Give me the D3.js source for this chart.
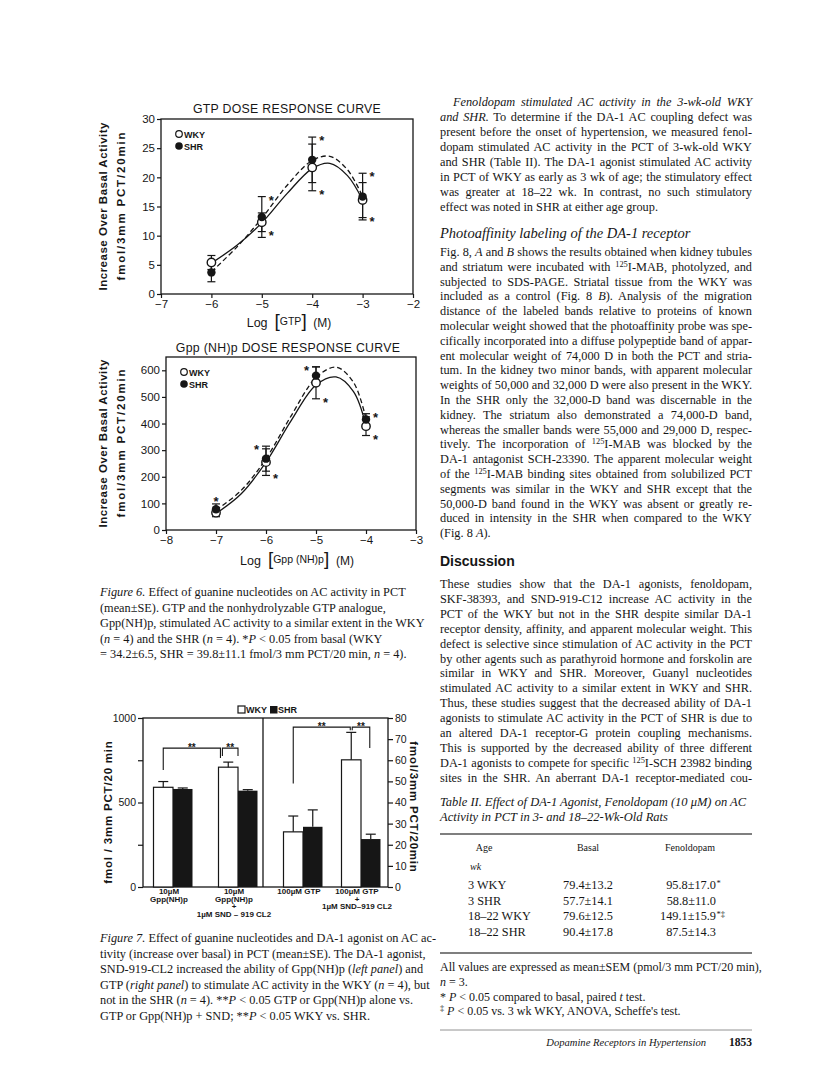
<!DOCTYPE html>
<html>
<head>
<meta charset="utf-8">
<script src="https://cdn.jsdelivr.net/npm/d3@7"></script>
<style>
body { margin: 0; background: #fff; }
.serif { font-family: "Liberation Serif", "Times New Roman", serif; }
.sans { font-family: "Liberation Sans", Arial, sans-serif; }
</style>
</head>
<body>
<svg id="page"></svg>
<script>
// ---- Figure 6, GTP panel ----
var gtpDoses = [-6, -5, -4, -3];
var gtpWky = [5.4, 12.3, 21.7, 16.1];
var gtpWkyErr = [1.2, 1.6, 4.0, 3.0];
var gtpShr = [3.7, 13.2, 23.0, 16.7];
var gtpShrErr = [1.6, 3.5, 3.9, 4.0];
// fitted curves
var gtpFitX = [-6, -5.5, -5, -4.5, -4, -3.65, -3.3, -3];
var gtpFitWky = [5.3, 8.3, 12.2, 17.2, 21.5, 22.4, 20.3, 16.1];
var gtpFitShr = [3.8, 8.0, 13.0, 18.6, 22.9, 23.6, 21.3, 16.7];
var gtpXTicks = [-7, -6, -5, -4, -3, -2];
var gtpYTicks = [0, 5, 10, 15, 20, 25, 30];
var gtpStarUp = [null, "r", "r", "r"];
var gtpStarDown = [null, "r", "r", "r"];

// ---- Figure 6, Gpp(NH)p panel ----
var gppDoses = [-7, -6, -5, -4];
var gppWky = [65, 255, 553, 390];
var gppWkyErr = [15, 50, 60, 35];
var gppShr = [78, 268, 580, 415];
var gppShrErr = [20, 47, 33, 22];
var gppFitX = [-7, -6.5, -6, -5.5, -5, -4.6, -4.25, -4];
var gppFitWky = [62, 135, 255, 410, 545, 575, 520, 392];
var gppFitShr = [75, 148, 268, 428, 572, 612, 555, 418];
var gppXTicks = [-8, -7, -6, -5, -4, -3];
var gppYTicks = [0, 100, 200, 300, 400, 500, 600];
var gppStarUp = ["c", "l", "l", "r"];
var gppStarDown = [null, "r", "r", "r"];

// ---- Figure 7 bars ----
var barGroups = ["gpp", "gppSnd", "gtp", "gtpSnd"];
var barPanel = ["left", "left", "right", "right"];
var barLabels = [["10\u00b5M", "Gpp(NH)p"], ["10\u00b5M", "Gpp(NH)p", "+", "1\u00b5M SND \u2013 919 CL2"],
                 ["100\u00b5M GTP"], ["100\u00b5M GTP", "+", "1\u00b5M SND\u2013919 CL2"]];
var barWky = [590, 709, 26.1, 60.2];
var barWkyErr = [34, 30, 7.5, 13.0];
var barShr = [580, 570, 28.5, 22.7];
var barShrErr = [6, 6, 8.0, 2.3];
var leftTicks = [0, 250, 500, 750, 1000];
var rightTicks = [0, 10, 20, 30, 40, 50, 60, 70, 80];

// ---- Table II ----
var tableAges = ["3 WKY", "3 SHR", "18\u201322 WKY", "18\u201322 SHR"];
var basalMean = [79.4, 57.7, 79.6, 90.4];
var basalSem = [13.2, 14.1, 12.5, 17.8];
var fenMean = [95.8, 58.8, 149.1, 87.5];
var fenSem = [17.0, 11.0, 15.9, 14.3];
var fenMark = ["*", "", "*\u2021", ""];

// ---- text ----
var fig6Caption = [
  "<i>Figure 6.</i> Effect of guanine nucleotides on AC activity in PCT",
  "(mean\u00b1SE). GTP and the nonhydrolyzable GTP analogue,",
  "Gpp(NH)p, stimulated AC activity to a similar extent in the WKY",
  "(<i>n</i> = 4) and the SHR (<i>n</i> = 4). *<i>P</i> < 0.05 from basal (WKY",
  "= 34.2\u00b16.5, SHR = 39.8\u00b111.1 fmol/3 mm PCT/20 min, <i>n</i> = 4)."
];
var fig7Caption = [
  "<i>Figure 7.</i> Effect of guanine nucleotides and DA-1 agonist on AC ac-",
  "tivity (increase over basal) in PCT (mean\u00b1SE). The DA-1 agonist,",
  "SND-919-CL2 increased the ability of Gpp(NH)p (<i>left panel</i>) and",
  "GTP (<i>right panel</i>) to stimulate AC activity in the WKY (<i>n</i> = 4), but",
  "not in the SHR (<i>n</i> = 4). **<i>P</i> < 0.05 GTP or Gpp(NH)p alone vs.",
  "GTP or Gpp(NH)p + SND; **<i>P</i> < 0.05 WKY vs. SHR."
];
var paraA = [
  "<i>Fenoldopam stimulated AC activity in the 3-wk-old WKY</i>",
  "<i>and SHR.</i> To determine if the DA-1 AC coupling defect was",
  "present before the onset of hypertension, we measured fenol-",
  "dopam stimulated AC activity in the PCT of 3-wk-old WKY",
  "and SHR (Table II). The DA-1 agonist stimulated AC activity",
  "in PCT of WKY as early as 3 wk of age; the stimulatory effect",
  "was greater at 18\u201322 wk. In contrast, no such stimulatory",
  "effect was noted in SHR at either age group."
];
var paraB = [
  "Fig. 8, <i>A</i> and <i>B</i> shows the results obtained when kidney tubules",
  "and striatum were incubated with <sup>125</sup>I-MAB, photolyzed, and",
  "subjected to SDS-PAGE. Striatal tissue from the WKY was",
  "included as a control (Fig. 8 <i>B</i>). Analysis of the migration",
  "distance of the labeled bands relative to proteins of known",
  "molecular weight showed that the photoaffinity probe was spe-",
  "cifically incorporated into a diffuse polypeptide band of appar-",
  "ent molecular weight of 74,000 D in both the PCT and stria-",
  "tum. In the kidney two minor bands, with apparent molecular",
  "weights of 50,000 and 32,000 D were also present in the WKY.",
  "In the SHR only the 32,000-D band was discernable in the",
  "kidney. The striatum also demonstrated a 74,000-D band,",
  "whereas the smaller bands were 55,000 and 29,000 D, respec-",
  "tively. The incorporation of <sup>125</sup>I-MAB was blocked by the",
  "DA-1 antagonist SCH-23390. The apparent molecular weight",
  "of the <sup>125</sup>I-MAB binding sites obtained from solubilized PCT",
  "segments was similar in the WKY and SHR except that the",
  "50,000-D band found in the WKY was absent or greatly re-",
  "duced in intensity in the SHR when compared to the WKY",
  "(Fig. 8 <i>A</i>)."
];
var paraC = [
  "These studies show that the DA-1 agonists, fenoldopam,",
  "SKF-38393, and SND-919-C12 increase AC activity in the",
  "PCT of the WKY but not in the SHR despite similar DA-1",
  "receptor density, affinity, and apparent molecular weight. This",
  "defect is selective since stimulation of AC activity in the PCT",
  "by other agents such as parathyroid hormone and forskolin are",
  "similar in WKY and SHR. Moreover, Guanyl nucleotides",
  "stimulated AC activity to a similar extent in WKY and SHR.",
  "Thus, these studies suggest that the decreased ability of DA-1",
  "agonists to stimulate AC activity in the PCT of SHR is due to",
  "an altered DA-1 receptor-G protein coupling mechanisms.",
  "This is supported by the decreased ability of three different",
  "DA-1 agonists to compete for specific <sup>125</sup>I-SCH 23982 binding",
  "sites in the SHR. An aberrant DA-1 receptor-mediated cou-"
];
var tableTitle = [
  "<i>Table II. Effect of DA-1 Agonist, Fenoldopam (10 \u03bcM) on AC</i>",
  "<i>Activity in PCT in 3- and 18\u201322-Wk-Old Rats</i>"
];
var tableNotes = [
  "All values are expressed as mean\u00b1SEM (pmol/3 mm PCT/20 min),",
  "<i>n</i> = 3.",
  "* <i>P</i> < 0.05 compared to basal, paired <i>t</i> test.",
  "<sup>\u2021</sup> <i>P</i> < 0.05 vs. 3 wk WKY, ANOVA, Scheffe's test."
];

var W = 816, H = 1078, ink = "#161616";
var svg = d3.select("#page").attr("width", W).attr("height", H);
svg.append("rect").attr("width", W).attr("height", H).attr("fill", "#fff");

// tiny markup: <i>, <b>, <sup>
function rich(sel, str) {
  var it = false, bd = false, sup = false, shift = 0;
  str.split(/(<\/?(?:i|b|sup)>)/).forEach(function(p) {
    if (p === "<i>") it = true;
    else if (p === "</i>") it = false;
    else if (p === "<b>") bd = true;
    else if (p === "</b>") bd = false;
    else if (p === "<sup>") sup = true;
    else if (p === "</sup>") sup = false;
    else if (p.length) {
      var t = sel.append("tspan").text(p);
      if (it) t.attr("font-style", "italic");
      if (bd) t.attr("font-weight", "bold");
      var want = sup ? -4 : 0;
      if (want !== shift) { t.attr("dy", want - shift); shift = want; }
      if (sup) t.attr("font-size", "0.68em");
    }
  });
}

function justify(t, str, width) {
  var plain = str.replace(/<[^>]+>/g, "");
  var n = (plain.match(/ /g) || []).length;
  var w = t.node().getComputedTextLength();
  if (n > 0) t.attr("word-spacing", ((width - w) / n).toFixed(2));
}

function para(lines, x, y0, lh, opts) {
  lines.forEach(function(s, i) {
    var ind = (i === 0 && opts.indent) ? opts.indent : 0;
    var t = svg.append("text").attr("class", "serif")
      .attr("x", x + ind).attr("y", y0 + i * lh)
      .attr("font-size", opts.size).attr("fill", ink)
      .style("white-space", "pre");
    rich(t, s);
    if (opts.width && (i < lines.length - 1 || opts.justifyLast)) justify(t, s, opts.width - ind);
  });
}

function styleAxis(a, size) {
  a.attr("font-family", null).attr("font-size", null).attr("class", "sans");
  a.select(".domain").remove();
  a.selectAll("line").attr("stroke", ink).attr("stroke-width", 1.2);
  a.selectAll("text").attr("fill", ink).attr("font-size", size);
}

var intFmt = d3.format("d");

function doseChart(o) {
  var x = d3.scaleLinear().domain(o.xDomain).range([o.x0, o.x1]);
  var y = d3.scaleLinear().domain(o.yDomain).range([o.y0, o.y1]);
  var g = svg.append("g");

  g.append("text").attr("class", "sans").attr("x", o.titleX).attr("y", o.titleY)
    .attr("text-anchor", "middle").attr("font-size", 12.3).attr("letter-spacing", 0.3)
    .attr("fill", ink).text(o.title);

  g.append("rect").attr("x", o.x0).attr("y", o.y1)
    .attr("width", o.x1 - o.x0).attr("height", o.y0 - o.y1)
    .attr("fill", "none").attr("stroke", ink).attr("stroke-width", 1.3);

  var xa = g.append("g").attr("transform", "translate(0," + o.y0 + ")")
    .call(d3.axisBottom(x).tickValues(o.xTicks).tickSize(4).tickPadding(2).tickSizeOuter(0).tickFormat(intFmt));
  styleAxis(xa, 11.5);
  var ya = g.append("g").attr("transform", "translate(" + o.x0 + ",0)")
    .call(d3.axisLeft(y).tickValues(o.yTicks).tickSize(4).tickPadding(2).tickSizeOuter(0).tickFormat(intFmt));
  styleAxis(ya, 11.5);

  // y labels
  var cy = (o.y0 + o.y1) / 2;
  g.append("text").attr("class", "sans").attr("transform", "translate(107," + cy + ") rotate(-90)")
    .attr("text-anchor", "middle").attr("font-size", 11.5).attr("font-weight", "bold")
    .attr("textLength", 168).attr("lengthAdjust", "spacing").attr("fill", ink)
    .text("Increase  Over  Basal  Activity");
  g.append("text").attr("class", "sans").attr("transform", "translate(125," + cy + ") rotate(-90)")
    .attr("text-anchor", "middle").attr("font-size", 11.5).attr("font-weight", "bold")
    .attr("textLength", 148).attr("lengthAdjust", "spacing").attr("fill", ink)
    .text("fmol/3mm PCT/20min");

  // x label
  var xl = g.append("text").attr("class", "sans").attr("x", o.xLabelX).attr("y", o.xLabelY)
    .attr("text-anchor", "middle").attr("fill", ink).style("white-space", "pre");
  xl.append("tspan").attr("font-size", 12.5).text("Log  ");
  xl.append("tspan").attr("font-size", 19).attr("font-weight", 300).text("[");
  xl.append("tspan").attr("font-size", 10.5).attr("dy", -2).text(o.agent);
  xl.append("tspan").attr("font-size", 19).attr("font-weight", 300).attr("dy", 2).text("]");
  xl.append("tspan").attr("font-size", 12).text("  (M)");

  // fitted curves
  var line = d3.line().x(function(d) { return x(d[0]); }).y(function(d) { return y(d[1]); })
    .curve(d3.curveCatmullRom.alpha(0.5));
  g.append("path").attr("d", line(d3.zip(o.fitX, o.fitWky)))
    .attr("fill", "none").attr("stroke", ink).attr("stroke-width", 1.3);
  g.append("path").attr("d", line(d3.zip(o.fitX, o.fitShr)))
    .attr("fill", "none").attr("stroke", ink).attr("stroke-width", 1.3).attr("stroke-dasharray", "5,3");

  // error bars
  function errBars(vals, errs) {
    var eg = g.append("g").attr("stroke", ink).attr("stroke-width", 1.2);
    o.doses.forEach(function(d, i) {
      var cx = x(d), hi = y(vals[i] + errs[i]), lo = y(vals[i] - errs[i]);
      eg.append("line").attr("x1", cx).attr("x2", cx).attr("y1", hi).attr("y2", lo);
      eg.append("line").attr("x1", cx - 4).attr("x2", cx + 4).attr("y1", hi).attr("y2", hi);
      eg.append("line").attr("x1", cx - 4).attr("x2", cx + 4).attr("y1", lo).attr("y2", lo);
    });
  }
  errBars(o.wky, o.wkyErr);
  errBars(o.shr, o.shrErr);

  g.selectAll(".wky").data(o.doses).enter().append("circle")
    .attr("cx", function(d) { return x(d); }).attr("cy", function(d, i) { return y(o.wky[i]); })
    .attr("r", 4.2).attr("fill", "#fff").attr("stroke", ink).attr("stroke-width", 1.4);
  g.selectAll(".shr").data(o.doses).enter().append("circle")
    .attr("cx", function(d) { return x(d); }).attr("cy", function(d, i) { return y(o.shr[i]); })
    .attr("r", 4.2).attr("fill", ink);

  // significance stars
  function star(cx, cyv, side) {
    if (!side) return;
    var t = g.append("text").attr("class", "sans").attr("font-size", 13).attr("font-weight", "bold")
      .attr("fill", ink).text("*");
    if (side === "r") t.attr("x", cx + 7).attr("y", cyv + 8);
    else if (side === "l") t.attr("x", cx - 7).attr("y", cyv + 8).attr("text-anchor", "end");
    else t.attr("x", cx).attr("y", cyv + 2).attr("text-anchor", "middle");
  }
  o.doses.forEach(function(d, i) {
    star(x(d), y(o.shr[i] + o.shrErr[i]), o.starUp[i]);
    star(x(d), y(o.wky[i] - o.wkyErr[i]), o.starDown[i]);
  });

  // legend
  var lx = o.x0 + 18, ly = o.y1 + 15;
  g.append("circle").attr("cx", lx).attr("cy", ly).attr("r", 3.3)
    .attr("fill", "#fff").attr("stroke", ink).attr("stroke-width", 1.2);
  g.append("text").attr("class", "sans").attr("x", lx + 5).attr("y", ly + 3.5)
    .attr("font-size", 9).attr("font-weight", "bold").attr("fill", ink).text("WKY");
  g.append("circle").attr("cx", lx).attr("cy", ly + 12).attr("r", 3.8).attr("fill", ink);
  g.append("text").attr("class", "sans").attr("x", lx + 5).attr("y", ly + 15.5)
    .attr("font-size", 9).attr("font-weight", "bold").attr("fill", ink).text("SHR");
}

doseChart({
  title: "GTP DOSE RESPONSE CURVE", titleX: 287, titleY: 113,
  x0: 161, x1: 413, y0: 294, y1: 119,
  xDomain: [-7, -2], yDomain: [0, 30], xTicks: gtpXTicks, yTicks: gtpYTicks,
  agent: "GTP", xLabelX: 289, xLabelY: 327,
  doses: gtpDoses, wky: gtpWky, wkyErr: gtpWkyErr, shr: gtpShr, shrErr: gtpShrErr,
  fitX: gtpFitX, fitWky: gtpFitWky, fitShr: gtpFitShr,
  starUp: gtpStarUp, starDown: gtpStarDown
});

doseChart({
  title: "Gpp (NH)p DOSE RESPONSE CURVE", titleX: 288, titleY: 352,
  x0: 166, x1: 416, y0: 530, y1: 357,
  xDomain: [-8, -3], yDomain: [0, 650], xTicks: gppXTicks, yTicks: gppYTicks,
  agent: "Gpp (NH)p", xLabelX: 297, xLabelY: 565,
  doses: gppDoses, wky: gppWky, wkyErr: gppWkyErr, shr: gppShr, shrErr: gppShrErr,
  fitX: gppFitX, fitWky: gppFitWky, fitShr: gppFitShr,
  starUp: gppStarUp, starDown: gppStarDown
});

para(fig6Caption, 100, 596, 15.5, { size: 12.3 });

// ---- Figure 7 ----
(function() {
  var bx0 = 143, bx1 = 388, bdiv = 263, by0 = 887, by1 = 718, bw = 19.5;
  var yL = d3.scaleLinear().domain([0, 1000]).range([by0, by1]);
  var yR = d3.scaleLinear().domain([0, 80]).range([by0, by1]);
  var xs = {
    left: d3.scalePoint().domain(barGroups.slice(0, 2)).range([173, 238]),
    right: d3.scalePoint().domain(barGroups.slice(2)).range([303, 361])
  };
  var ys = { left: yL, right: yR };
  var g = svg.append("g");

  var la = g.append("g").attr("transform", "translate(" + bx0 + ",0)")
    .call(d3.axisLeft(yL).tickValues(leftTicks).tickSize(5).tickPadding(2).tickSizeOuter(0)
      .tickFormat(function(d) { return d % 500 ? "" : d; }));
  styleAxis(la, 10.5);
  var ra = g.append("g").attr("transform", "translate(" + bx1 + ",0)")
    .call(d3.axisRight(yR).tickValues(rightTicks).tickSize(5).tickPadding(2).tickSizeOuter(0));
  styleAxis(ra, 10.5);

  var fr = g.append("g").attr("stroke", ink).attr("stroke-width", 1.3).attr("fill", "none");
  fr.append("rect").attr("x", bx0).attr("y", by1).attr("width", bx1 - bx0).attr("height", by0 - by1);
  fr.append("line").attr("x1", bdiv).attr("x2", bdiv).attr("y1", by1).attr("y2", by0);

  barGroups.forEach(function(k, i) {
    var p = barPanel[i], c = xs[p](k), y = ys[p];
    g.append("rect").attr("x", c - bw).attr("y", y(barWky[i])).attr("width", bw)
      .attr("height", by0 - y(barWky[i])).attr("fill", "#fff").attr("stroke", ink).attr("stroke-width", 1.2);
    g.append("rect").attr("x", c).attr("y", y(barShr[i])).attr("width", bw)
      .attr("height", by0 - y(barShr[i])).attr("fill", ink);
    [[c - bw / 2, barWky[i], barWkyErr[i]], [c + bw / 2, barShr[i], barShrErr[i]]].forEach(function(e) {
      var top = y(e[1] + e[2]);
      g.append("line").attr("x1", e[0]).attr("x2", e[0]).attr("y1", y(e[1])).attr("y2", top)
        .attr("stroke", ink).attr("stroke-width", 1.2);
      g.append("line").attr("x1", e[0] - 5).attr("x2", e[0] + 5).attr("y1", top).attr("y2", top)
        .attr("stroke", ink).attr("stroke-width", 1.2);
    });
    var lt = g.append("text").attr("class", "sans").attr("text-anchor", "middle")
      .attr("font-size", 8).attr("font-weight", "bold").attr("fill", ink);
    barLabels[i].forEach(function(s, j) {
      lt.append("tspan").attr("x", c - 4).attr("y", 894 + j * 7.6).text(s);
    });
  });

  // significance brackets: [group, offset in bar widths] pairs, heights in axis units
  var brackets = [
    { p: "left", a: [0, -0.5], b: [1, -0.9], top: 822, la: 692, lb: 763 },
    { p: "left", a: [1, -0.8], b: [1, 0], top: 822, la: 775, lb: 775 },
    { p: "right", a: [2, -0.5], b: [3, -0.55], top: 75.7, la: 49, lb: 74.2 },
    { p: "right", a: [3, -0.45], b: [3, 0.45], top: 75.7, la: 74.2, lb: 65.8 }
  ];
  brackets.forEach(function(br) {
    var y = ys[br.p];
    var xa = xs[br.p](barGroups[br.a[0]]) + br.a[1] * bw;
    var xb = xs[br.p](barGroups[br.b[0]]) + br.b[1] * bw;
    g.append("path").attr("d", "M" + xa + "," + y(br.la) + "V" + y(br.top) + "H" + xb + "V" + y(br.lb))
      .attr("fill", "none").attr("stroke", ink).attr("stroke-width", 1.1);
    g.append("text").attr("class", "sans").attr("x", (xa + xb) / 2).attr("y", y(br.top) + 3)
      .attr("text-anchor", "middle").attr("font-size", 10).attr("font-weight", "bold")
      .attr("fill", ink).text("**");
  });

  // axis titles
  g.append("text").attr("class", "sans").attr("transform", "translate(112,812) rotate(-90)")
    .attr("text-anchor", "middle").attr("font-size", 11.5).attr("font-weight", "bold")
    .attr("letter-spacing", 0.8).attr("fill", ink).text("fmol / 3mm PCT/20 min");
  g.append("text").attr("class", "sans").attr("transform", "translate(410,807) rotate(90)")
    .attr("text-anchor", "middle").attr("font-size", 11.5).attr("font-weight", "bold")
    .attr("letter-spacing", 0.8).attr("fill", ink).text("fmol/3mm PCT/20min");

  // legend
  g.append("rect").attr("x", 238).attr("y", 706).attr("width", 7).attr("height", 7)
    .attr("fill", "#fff").attr("stroke", ink).attr("stroke-width", 1.2);
  g.append("text").attr("class", "sans").attr("x", 246).attr("y", 713).attr("font-size", 9)
    .attr("font-weight", "bold").attr("fill", ink).text("WKY");
  g.append("rect").attr("x", 270).attr("y", 706).attr("width", 7.5).attr("height", 7.5).attr("fill", ink);
  g.append("text").attr("class", "sans").attr("x", 278).attr("y", 713).attr("font-size", 9)
    .attr("font-weight", "bold").attr("fill", ink).text("SHR");
})();

para(fig7Caption, 100, 942, 15.5, { size: 12.3 });

// ---- right column ----
var cx0 = 440, cw = 312;
para(paraA, cx0, 106, 15, { size: 12.3, width: cw, indent: 13 });
svg.append("text").attr("class", "serif").attr("x", cx0).attr("y", 238).attr("font-size", 14.5)
  .attr("font-style", "italic").attr("fill", ink).text("Photoaffinity labeling of the DA-1 receptor");
para(paraB, cx0, 256, 14.8, { size: 12.3, width: cw });
svg.append("text").attr("class", "sans").attr("x", cx0).attr("y", 566).attr("font-size", 14)
  .attr("font-weight", "bold").attr("fill", ink).text("Discussion");
para(paraC, cx0, 588, 14.9, { size: 12.3, width: cw, justifyLast: true });

para(tableTitle, cx0, 806, 15, { size: 12.5 });
svg.append("line").attr("x1", cx0).attr("x2", cx0 + cw).attr("y1", 834).attr("y2", 834)
  .attr("stroke", "#555").attr("stroke-width", 1.4);
[["Age", 484], ["Basal", 588], ["Fenoldopam", 690]].forEach(function(h) {
  svg.append("text").attr("class", "serif").attr("x", h[1]).attr("y", 851).attr("text-anchor", "middle")
    .attr("font-size", 10).attr("fill", ink).text(h[0]);
});
svg.append("text").attr("class", "serif").attr("x", 470).attr("y", 870).attr("font-size", 10)
  .attr("font-style", "italic").attr("fill", ink).text("wk");
var f1 = d3.format(".1f");
tableAges.forEach(function(a, i) {
  var ty = 889 + i * 15.5;
  svg.append("text").attr("class", "serif").attr("x", 468).attr("y", ty).attr("font-size", 12.3)
    .attr("fill", ink).text(a);
  svg.append("text").attr("class", "serif").attr("x", 588).attr("y", ty).attr("font-size", 12.3)
    .attr("text-anchor", "middle").attr("fill", ink).text(f1(basalMean[i]) + "\u00b1" + f1(basalSem[i]));
  svg.append("text").attr("class", "serif").attr("x", 716).attr("y", ty).attr("font-size", 12.3)
    .attr("text-anchor", "end").attr("fill", ink).text(f1(fenMean[i]) + "\u00b1" + f1(fenSem[i]));
  if (fenMark[i]) {
    svg.append("text").attr("class", "serif").attr("x", 716.5).attr("y", ty - 3)
      .attr("font-size", 8.5).attr("fill", ink).text(fenMark[i]);
  }
});
svg.append("line").attr("x1", cx0).attr("x2", cx0 + cw).attr("y1", 953).attr("y2", 953)
  .attr("stroke", "#555").attr("stroke-width", 1.4);
para(tableNotes, cx0, 971, 14.8, { size: 12 });

// footer
svg.append("line").attr("x1", cx0).attr("x2", cx0 + cw).attr("y1", 1030).attr("y2", 1030)
  .attr("stroke", "#777").attr("stroke-width", 0.8);
svg.append("text").attr("class", "serif").attr("x", 706).attr("y", 1046).attr("font-size", 10.6)
  .attr("font-style", "italic").attr("text-anchor", "end").attr("fill", ink).text("Dopamine Receptors in Hypertension");
svg.append("text").attr("class", "serif").attr("x", cx0 + cw).attr("y", 1046).attr("font-size", 11.5)
  .attr("font-weight", "bold").attr("text-anchor", "end").attr("fill", ink).text("1853");
</script>
</body>
</html>
